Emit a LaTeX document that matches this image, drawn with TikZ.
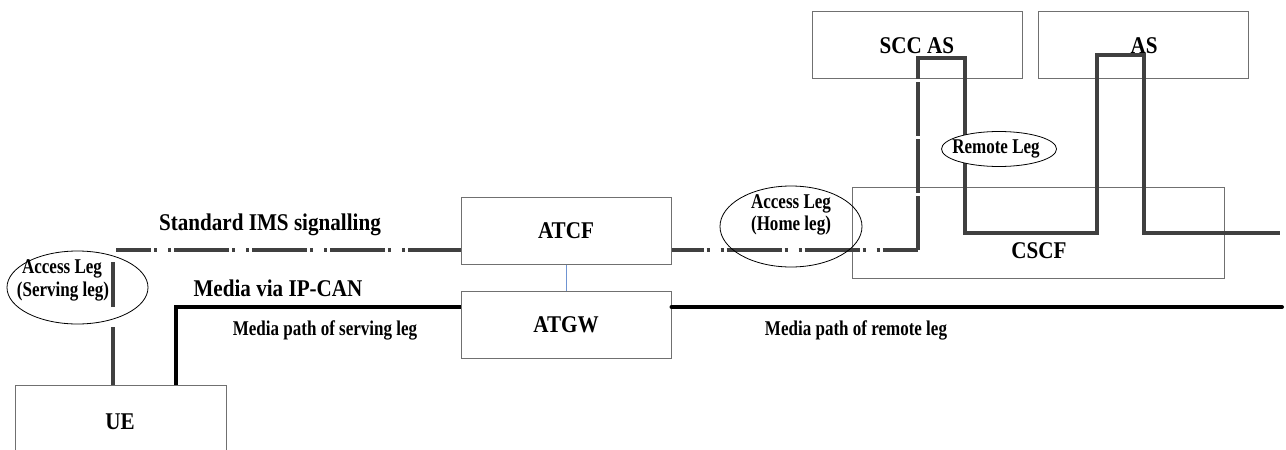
\documentclass[tikz,border=0pt]{standalone}
\usepackage{fontspec}
\usetikzlibrary{shapes.geometric}
\newfontfamily\tnr{Liberation Serif}[FakeStretch=0.88]
\newfontfamily\tnrs{Liberation Serif}[FakeStretch=0.81]
\definecolor{sigc}{HTML}{404040}
\definecolor{boxc}{HTML}{707070}
\definecolor{linkc}{HTML}{6F94D2}
\begin{document}
\begin{tikzpicture}[x=1pt,y=-1pt,
  box/.style={draw=boxc, line width=1pt, inner sep=0pt},
  big/.style={font=\tnr\bfseries\fontsize{24}{28}\selectfont, inner sep=0pt, anchor=base},
  small/.style={font=\tnrs\bfseries\fontsize{21}{24}\selectfont, inner sep=0pt, anchor=base},
  oval/.style={draw=black, line width=0.8pt, ellipse, inner sep=0pt},
  sig/.style={line width=4pt, draw=sigc, dash pattern=on 55pt off 3pt on 3pt off 11pt on 3pt off 3pt},
  sigv/.style={line width=4pt, draw=sigc, dash pattern=on 54pt off 3pt},
  remote/.style={line width=4pt, draw=sigc, line join=miter},
  media/.style={line width=4pt, draw=black, line join=miter}
]
\useasboundingbox (0,0) rectangle (1286,450);

% boxes
\node[box, minimum width=210, minimum height=67] (scc) at (917,44.5) {};
\node[box, minimum width=210, minimum height=67] (as) at (1143,44.5) {};
\node[box, minimum width=372, minimum height=91] (cscf) at (1038,232.5) {};
\node[box, minimum width=210, minimum height=67] (atcf) at (566,230.5) {};
\node[box, minimum width=210, minimum height=67] (atgw) at (566,324.5) {};
\node[box, minimum width=211, minimum height=77] (ue) at (120.5,423.5) {};

\node[big] (sccT) at (917,53) {SCC AS};
\node[big] (asT) at (1144,53) {AS};
\node[big] (cscfT) at (1039,258) {CSCF};
\node[big] (atcfT) at (566,238) {ATCF};
\node[big] (atgwT) at (566,332) {ATGW};
\node[big] (ueT) at (120,429) {UE};

% link ATCF - ATGW
\draw[linkc, line width=1pt] (atcf.south) -- (atgw.north);

% coordinates
\coordinate (ueSig) at (113,385);
\coordinate (ueSigTop) at (113,262);
\coordinate (sigStart) at (116,249.5);
\coordinate (sigCorner) at (918,249.5);
\coordinate (sccIn) at (918,58);
\coordinate (sccOut) at (965,58);
\coordinate (r1) at (965,233);
\coordinate (r2) at (1097,233);
\coordinate (r3) at (1097,55);
\coordinate (r4) at (1144,55);
\coordinate (r5) at (1144,233);
\coordinate (r6) at (1280,233);
\coordinate (ueMed) at (176,385);
\coordinate (medCorner) at (176,307);
\coordinate (medEnd) at (1282,307);

% signalling
\draw[sigv, dash pattern=on 58pt off 20pt] (ueSig) -- (ueSigTop);
\draw[sig, dash phase=20pt] (sigStart) -- (sigStart -| atcf.west);
\draw[sig, dash phase=23pt] (sigStart -| atcf.east) -- (sigCorner);
\draw[sigv] (sigCorner) -- (sccIn);
\draw[remote, line cap=butt] ([xshift=-2pt]sccIn) -- (sccOut) -- (r1) -- (r2) -- (r3) -- (r4) -- (r5) -- (r6);

% media
\draw[media] (ueMed) -- (medCorner) -- (medCorner -| atgw.west);
\draw[media, line cap=round] (medCorner -| atgw.east) -- (medEnd);

% ellipses
\node[oval, minimum width=141, minimum height=73] (servE) at (77.5,287.5) {};
\node[small] (servT1) at (62,273) {Access Leg};
\node[small] (servT2) at (63,296) {(Serving leg)};
\node[oval, minimum width=142, minimum height=81] (homeE) at (791,226.5) {};
\node[small] (homeT1) at (791,208) {Access Leg};
\node[small] (homeT2) at (791,230) {(Home leg)};
\node[oval, fill=white, minimum width=115, minimum height=35] (remE) at (999,149) {};
\node[small] (remT) at (996,153) {Remote Leg};

% labels
\node[big] (stdT) at (270,230) {Standard IMS signalling};
\node[big] (mediaT) at (278,296) {Media via IP-CAN};
\node[small] (mpsT) at (325,335) {Media path of serving leg};
\node[small] (mprT) at (856,335) {Media path of remote leg};
\end{tikzpicture}
\end{document}
